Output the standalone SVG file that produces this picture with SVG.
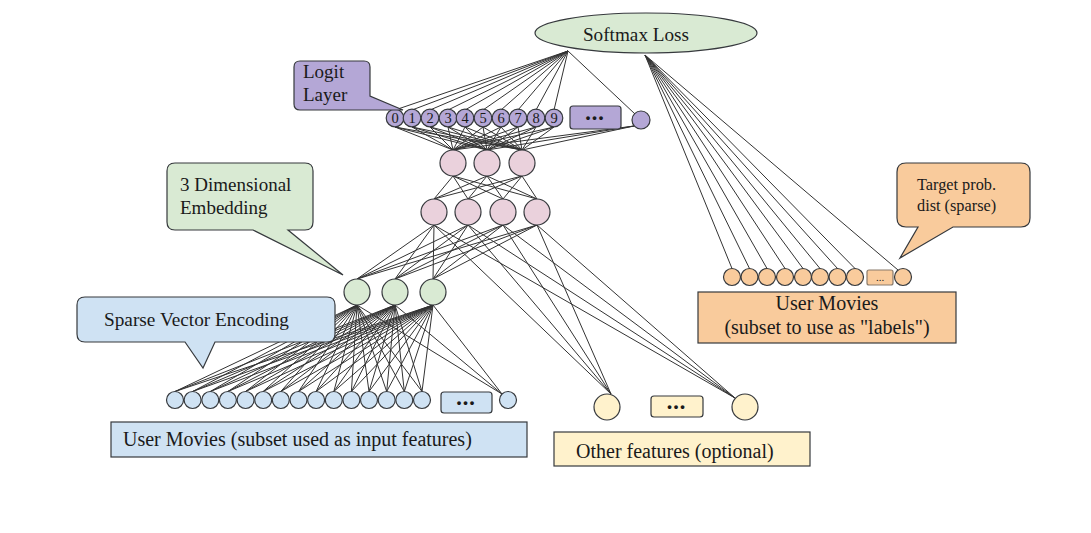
<svg xmlns="http://www.w3.org/2000/svg" width="1091" height="533" viewBox="0 0 1091 533">
  <style>
    .c { stroke: #333333; stroke-width: 1; fill: none; }
    .n { stroke: #36393d; stroke-width: 1.2; }
    .t { font-family: "Liberation Serif", "Times New Roman", serif; fill: #1a1a1a; }
    .purple { fill: #b4a7d6; }
    .pink { fill: #ead1dc; }
    .green { fill: #d9ead3; }
    .blue { fill: #cfe2f3; }
    .orange { fill: #f9cb9c; }
    .yellow { fill: #fff2cc; }
    .dots { font-family: "Liberation Sans", Arial, sans-serif; font-weight: bold; fill: #1a1a1a; }
  </style>
  <rect width="1091" height="533" fill="#ffffff"/>

  <g id="connectors">
    <!-- softmax to logit layer -->
    <line class="c" x1="568" y1="51" x2="395" y2="110"/>
    <line class="c" x1="568" y1="51" x2="412" y2="110"/>
    <line class="c" x1="568" y1="51" x2="430" y2="110"/>
    <line class="c" x1="568" y1="51" x2="448" y2="110"/>
    <line class="c" x1="568" y1="51" x2="465" y2="110"/>
    <line class="c" x1="568" y1="51" x2="483" y2="110"/>
    <line class="c" x1="568" y1="51" x2="501" y2="110"/>
    <line class="c" x1="568" y1="51" x2="518" y2="110"/>
    <line class="c" x1="568" y1="51" x2="536" y2="110"/>
    <line class="c" x1="568" y1="51" x2="554" y2="110"/>
    <line class="c" x1="568" y1="51" x2="635" y2="114"/>
    <!-- softmax to label targets -->
    <line class="c" x1="645" y1="55" x2="732" y2="268.5"/>
    <line class="c" x1="645" y1="55" x2="749.5" y2="268.5"/>
    <line class="c" x1="645" y1="55" x2="767" y2="268.5"/>
    <line class="c" x1="645" y1="55" x2="785" y2="268.5"/>
    <line class="c" x1="645" y1="55" x2="803" y2="268.5"/>
    <line class="c" x1="645" y1="55" x2="820" y2="268.5"/>
    <line class="c" x1="645" y1="55" x2="837.5" y2="268.5"/>
    <line class="c" x1="645" y1="55" x2="855" y2="268.5"/>
    <line class="c" x1="645" y1="55" x2="898" y2="270"/>
    <!-- logit layer to hidden layer 1 -->
    <line class="c" x1="395" y1="127" x2="453" y2="150"/>
    <line class="c" x1="395" y1="127" x2="487" y2="150"/>
    <line class="c" x1="395" y1="127" x2="522" y2="150"/>
    <line class="c" x1="412" y1="127" x2="453" y2="150"/>
    <line class="c" x1="412" y1="127" x2="487" y2="150"/>
    <line class="c" x1="412" y1="127" x2="522" y2="150"/>
    <line class="c" x1="430" y1="127" x2="453" y2="150"/>
    <line class="c" x1="430" y1="127" x2="487" y2="150"/>
    <line class="c" x1="430" y1="127" x2="522" y2="150"/>
    <line class="c" x1="448" y1="127" x2="453" y2="150"/>
    <line class="c" x1="448" y1="127" x2="487" y2="150"/>
    <line class="c" x1="448" y1="127" x2="522" y2="150"/>
    <line class="c" x1="465" y1="127" x2="453" y2="150"/>
    <line class="c" x1="465" y1="127" x2="487" y2="150"/>
    <line class="c" x1="465" y1="127" x2="522" y2="150"/>
    <line class="c" x1="483" y1="127" x2="453" y2="150"/>
    <line class="c" x1="483" y1="127" x2="487" y2="150"/>
    <line class="c" x1="483" y1="127" x2="522" y2="150"/>
    <line class="c" x1="501" y1="127" x2="453" y2="150"/>
    <line class="c" x1="501" y1="127" x2="487" y2="150"/>
    <line class="c" x1="501" y1="127" x2="522" y2="150"/>
    <line class="c" x1="518" y1="127" x2="453" y2="150"/>
    <line class="c" x1="518" y1="127" x2="487" y2="150"/>
    <line class="c" x1="518" y1="127" x2="522" y2="150"/>
    <line class="c" x1="536" y1="127" x2="453" y2="150"/>
    <line class="c" x1="536" y1="127" x2="487" y2="150"/>
    <line class="c" x1="536" y1="127" x2="522" y2="150"/>
    <line class="c" x1="554" y1="127" x2="453" y2="150"/>
    <line class="c" x1="554" y1="127" x2="487" y2="150"/>
    <line class="c" x1="554" y1="127" x2="522" y2="150"/>
    <line class="c" x1="634" y1="126" x2="453" y2="150"/>
    <line class="c" x1="634" y1="126" x2="487" y2="150"/>
    <line class="c" x1="634" y1="126" x2="522" y2="150"/>
    <!-- hidden layer 1 to hidden layer 2 -->
    <line class="c" x1="453" y1="176" x2="434" y2="199"/>
    <line class="c" x1="453" y1="176" x2="468" y2="199"/>
    <line class="c" x1="453" y1="176" x2="503" y2="199"/>
    <line class="c" x1="453" y1="176" x2="537" y2="199"/>
    <line class="c" x1="487" y1="176" x2="434" y2="199"/>
    <line class="c" x1="487" y1="176" x2="468" y2="199"/>
    <line class="c" x1="487" y1="176" x2="503" y2="199"/>
    <line class="c" x1="487" y1="176" x2="537" y2="199"/>
    <line class="c" x1="522" y1="176" x2="434" y2="199"/>
    <line class="c" x1="522" y1="176" x2="468" y2="199"/>
    <line class="c" x1="522" y1="176" x2="503" y2="199"/>
    <line class="c" x1="522" y1="176" x2="537" y2="199"/>
    <!-- hidden layer 2 to embedding -->
    <line class="c" x1="434" y1="225" x2="357" y2="279"/>
    <line class="c" x1="434" y1="225" x2="395" y2="279"/>
    <line class="c" x1="434" y1="225" x2="433" y2="279"/>
    <line class="c" x1="468" y1="225" x2="357" y2="279"/>
    <line class="c" x1="468" y1="225" x2="395" y2="279"/>
    <line class="c" x1="468" y1="225" x2="433" y2="279"/>
    <line class="c" x1="503" y1="225" x2="357" y2="279"/>
    <line class="c" x1="503" y1="225" x2="395" y2="279"/>
    <line class="c" x1="503" y1="225" x2="433" y2="279"/>
    <line class="c" x1="537" y1="225" x2="357" y2="279"/>
    <line class="c" x1="537" y1="225" x2="395" y2="279"/>
    <line class="c" x1="537" y1="225" x2="433" y2="279"/>
    <!-- hidden layer 2 to other features -->
    <line class="c" x1="434" y1="225" x2="611" y2="394"/>
    <line class="c" x1="468" y1="225" x2="611" y2="394"/>
    <line class="c" x1="503" y1="225" x2="611" y2="394"/>
    <line class="c" x1="537" y1="225" x2="611" y2="394"/>
    <line class="c" x1="434" y1="225" x2="735" y2="398"/>
    <line class="c" x1="468" y1="225" x2="735" y2="398"/>
    <line class="c" x1="503" y1="225" x2="735" y2="398"/>
    <line class="c" x1="537" y1="225" x2="735" y2="398"/>
    <!-- embedding to sparse input vector -->
    <line class="c" x1="357" y1="305" x2="175" y2="391.5"/>
    <line class="c" x1="357" y1="305" x2="192.6" y2="391.5"/>
    <line class="c" x1="357" y1="305" x2="210.3" y2="391.5"/>
    <line class="c" x1="357" y1="305" x2="227.9" y2="391.5"/>
    <line class="c" x1="357" y1="305" x2="245.6" y2="391.5"/>
    <line class="c" x1="357" y1="305" x2="263.2" y2="391.5"/>
    <line class="c" x1="357" y1="305" x2="280.8" y2="391.5"/>
    <line class="c" x1="357" y1="305" x2="298.5" y2="391.5"/>
    <line class="c" x1="357" y1="305" x2="316.1" y2="391.5"/>
    <line class="c" x1="357" y1="305" x2="333.8" y2="391.5"/>
    <line class="c" x1="357" y1="305" x2="351.4" y2="391.5"/>
    <line class="c" x1="357" y1="305" x2="369" y2="391.5"/>
    <line class="c" x1="357" y1="305" x2="386.7" y2="391.5"/>
    <line class="c" x1="357" y1="305" x2="404.3" y2="391.5"/>
    <line class="c" x1="357" y1="305" x2="422" y2="391.5"/>
    <line class="c" x1="357" y1="305" x2="502" y2="394"/>
    <line class="c" x1="395" y1="305" x2="175" y2="391.5"/>
    <line class="c" x1="395" y1="305" x2="192.6" y2="391.5"/>
    <line class="c" x1="395" y1="305" x2="210.3" y2="391.5"/>
    <line class="c" x1="395" y1="305" x2="227.9" y2="391.5"/>
    <line class="c" x1="395" y1="305" x2="245.6" y2="391.5"/>
    <line class="c" x1="395" y1="305" x2="263.2" y2="391.5"/>
    <line class="c" x1="395" y1="305" x2="280.8" y2="391.5"/>
    <line class="c" x1="395" y1="305" x2="298.5" y2="391.5"/>
    <line class="c" x1="395" y1="305" x2="316.1" y2="391.5"/>
    <line class="c" x1="395" y1="305" x2="333.8" y2="391.5"/>
    <line class="c" x1="395" y1="305" x2="351.4" y2="391.5"/>
    <line class="c" x1="395" y1="305" x2="369" y2="391.5"/>
    <line class="c" x1="395" y1="305" x2="386.7" y2="391.5"/>
    <line class="c" x1="395" y1="305" x2="404.3" y2="391.5"/>
    <line class="c" x1="395" y1="305" x2="422" y2="391.5"/>
    <line class="c" x1="395" y1="305" x2="502" y2="394"/>
    <line class="c" x1="433" y1="305" x2="175" y2="391.5"/>
    <line class="c" x1="433" y1="305" x2="192.6" y2="391.5"/>
    <line class="c" x1="433" y1="305" x2="210.3" y2="391.5"/>
    <line class="c" x1="433" y1="305" x2="227.9" y2="391.5"/>
    <line class="c" x1="433" y1="305" x2="245.6" y2="391.5"/>
    <line class="c" x1="433" y1="305" x2="263.2" y2="391.5"/>
    <line class="c" x1="433" y1="305" x2="280.8" y2="391.5"/>
    <line class="c" x1="433" y1="305" x2="298.5" y2="391.5"/>
    <line class="c" x1="433" y1="305" x2="316.1" y2="391.5"/>
    <line class="c" x1="433" y1="305" x2="333.8" y2="391.5"/>
    <line class="c" x1="433" y1="305" x2="351.4" y2="391.5"/>
    <line class="c" x1="433" y1="305" x2="369" y2="391.5"/>
    <line class="c" x1="433" y1="305" x2="386.7" y2="391.5"/>
    <line class="c" x1="433" y1="305" x2="404.3" y2="391.5"/>
    <line class="c" x1="433" y1="305" x2="422" y2="391.5"/>
    <line class="c" x1="433" y1="305" x2="502" y2="394"/>
  </g>

  <!-- output loss -->
  <g id="softmax-loss">
    <ellipse class="n green" cx="646" cy="33" rx="111" ry="20"/>
    <text class="t" x="636" y="41" font-size="19.2" text-anchor="middle">Softmax Loss</text>
  </g>

  <!-- logit layer -->
  <g id="logit-layer">
    <circle class="n purple" cx="395" cy="118" r="8.8"/>
    <circle class="n purple" cx="412" cy="118" r="8.8"/>
    <circle class="n purple" cx="430" cy="118" r="8.8"/>
    <circle class="n purple" cx="448" cy="118" r="8.8"/>
    <circle class="n purple" cx="465" cy="118" r="8.8"/>
    <circle class="n purple" cx="483" cy="118" r="8.8"/>
    <circle class="n purple" cx="501" cy="118" r="8.8"/>
    <circle class="n purple" cx="518" cy="118" r="8.8"/>
    <circle class="n purple" cx="536" cy="118" r="8.8"/>
    <circle class="n purple" cx="554" cy="118" r="8.8"/>
    <g class="t" font-size="14.5" text-anchor="middle">
      <text x="395" y="123">0</text>
      <text x="412" y="123">1</text>
      <text x="430" y="123">2</text>
      <text x="448" y="123">3</text>
      <text x="465" y="123">4</text>
      <text x="483" y="123">5</text>
      <text x="501" y="123">6</text>
      <text x="518" y="123">7</text>
      <text x="536" y="123">8</text>
      <text x="554" y="123">9</text>
    </g>
    <rect class="n purple" x="570" y="106" width="51" height="23" rx="3"/>
    <text class="dots" x="595.5" y="122" font-size="13" text-anchor="middle" letter-spacing="2">•••</text>
    <circle class="n purple" cx="641" cy="120" r="9"/>
  </g>

  <g id="logit-callout">
    <path class="n purple" d="M300,61 H364 Q370,61 370,67 V96 L403,110 L362,110 H300 Q294,110 294,104 V67 Q294,61 300,61 Z"/>
    <text class="t" x="303" y="78" font-size="19">Logit</text>
    <text class="t" x="303" y="101" font-size="19">Layer</text>
  </g>

  <!-- hidden layers -->
  <g id="hidden-1">
    <circle class="n pink" cx="453" cy="163" r="13"/>
    <circle class="n pink" cx="487" cy="163" r="13"/>
    <circle class="n pink" cx="522" cy="163" r="13"/>
  </g>
  <g id="hidden-2">
    <circle class="n pink" cx="434" cy="212" r="13"/>
    <circle class="n pink" cx="468" cy="212" r="13"/>
    <circle class="n pink" cx="503" cy="212" r="13"/>
    <circle class="n pink" cx="537" cy="212" r="13"/>
  </g>

  <!-- embedding -->
  <g id="embedding">
    <circle class="n green" cx="357" cy="292" r="13"/>
    <circle class="n green" cx="395" cy="292" r="13"/>
    <circle class="n green" cx="433" cy="292" r="13"/>
  </g>
  <g id="embedding-callout">
    <path class="n green" d="M175,163 H305 Q313,163 313,171 V222 Q313,230 305,230 H288 L343,275 L253,230 H175 Q167,230 167,222 V171 Q167,163 175,163 Z"/>
    <text class="t" x="180" y="191" font-size="19">3 Dimensional</text>
    <text class="t" x="180" y="214" font-size="19">Embedding</text>
  </g>

  <!-- sparse input vector -->
  <g id="sparse-callout">
    <path class="n blue" d="M85,297 H327 Q335,297 335,305 V334 Q335,342 327,342 H215 L203,368 L185,342 H85 Q77,342 77,334 V305 Q77,297 85,297 Z"/>
    <text class="t" x="104" y="326" font-size="19.3">Sparse Vector Encoding</text>
  </g>
  <g id="input-movies">
    <circle class="n blue" cx="175" cy="400" r="8.5"/>
    <circle class="n blue" cx="192.6" cy="400" r="8.5"/>
    <circle class="n blue" cx="210.3" cy="400" r="8.5"/>
    <circle class="n blue" cx="227.9" cy="400" r="8.5"/>
    <circle class="n blue" cx="245.6" cy="400" r="8.5"/>
    <circle class="n blue" cx="263.2" cy="400" r="8.5"/>
    <circle class="n blue" cx="280.8" cy="400" r="8.5"/>
    <circle class="n blue" cx="298.5" cy="400" r="8.5"/>
    <circle class="n blue" cx="316.1" cy="400" r="8.5"/>
    <circle class="n blue" cx="333.8" cy="400" r="8.5"/>
    <circle class="n blue" cx="351.4" cy="400" r="8.5"/>
    <circle class="n blue" cx="369" cy="400" r="8.5"/>
    <circle class="n blue" cx="386.7" cy="400" r="8.5"/>
    <circle class="n blue" cx="404.3" cy="400" r="8.5"/>
    <circle class="n blue" cx="422" cy="400" r="8.5"/>
    <rect class="n blue" x="441" y="392" width="51" height="21" rx="3"/>
    <text class="dots" x="466.5" y="407" font-size="13" text-anchor="middle" letter-spacing="2">•••</text>
    <circle class="n blue" cx="508" cy="400" r="8.5"/>
    <rect class="n blue" x="111" y="422" width="416" height="35"/>
    <text class="t" x="123" y="446" font-size="20">User Movies (subset used as input features)</text>
  </g>

  <!-- other features -->
  <g id="other-features">
    <circle class="n yellow" cx="607" cy="407" r="13"/>
    <rect class="n yellow" x="651" y="396" width="52" height="21" rx="3"/>
    <text class="dots" x="677" y="411" font-size="13" text-anchor="middle" letter-spacing="2">•••</text>
    <circle class="n yellow" cx="745" cy="407" r="13"/>
    <rect class="n yellow" x="554" y="432" width="256" height="34"/>
    <text class="t" x="576" y="458" font-size="20">Other features (optional)</text>
  </g>

  <!-- label targets -->
  <g id="label-movies">
    <circle class="n orange" cx="732" cy="277" r="8.5"/>
    <circle class="n orange" cx="749.5" cy="277" r="8.5"/>
    <circle class="n orange" cx="767" cy="277" r="8.5"/>
    <circle class="n orange" cx="785" cy="277" r="8.5"/>
    <circle class="n orange" cx="803" cy="277" r="8.5"/>
    <circle class="n orange" cx="820" cy="277" r="8.5"/>
    <circle class="n orange" cx="837.5" cy="277" r="8.5"/>
    <circle class="n orange" cx="855" cy="277" r="8.5"/>
    <rect class="n orange" x="867" y="270" width="26" height="15" rx="2" style="stroke:#8a7a6a"/>
    <text class="t" x="880" y="281" font-size="11" text-anchor="middle">...</text>
    <circle class="n orange" cx="903" cy="277" r="8.5"/>
    <rect class="n orange" x="698" y="292" width="258" height="51"/>
    <text class="t" x="827" y="310" font-size="20" text-anchor="middle">User Movies</text>
    <text class="t" x="827" y="334" font-size="20" text-anchor="middle">(subset to use as "labels")</text>
  </g>
  <g id="target-callout">
    <path class="n orange" d="M906,163 H1021 Q1030,163 1030,172 V218 Q1030,227 1021,227 H953 L900,258 L918,227 H906 Q897,227 897,218 V172 Q897,163 906,163 Z"/>
    <text class="t" x="917" y="190" font-size="16.3">Target prob.</text>
    <text class="t" x="917" y="211" font-size="16.3">dist (sparse)</text>
  </g>
</svg>
